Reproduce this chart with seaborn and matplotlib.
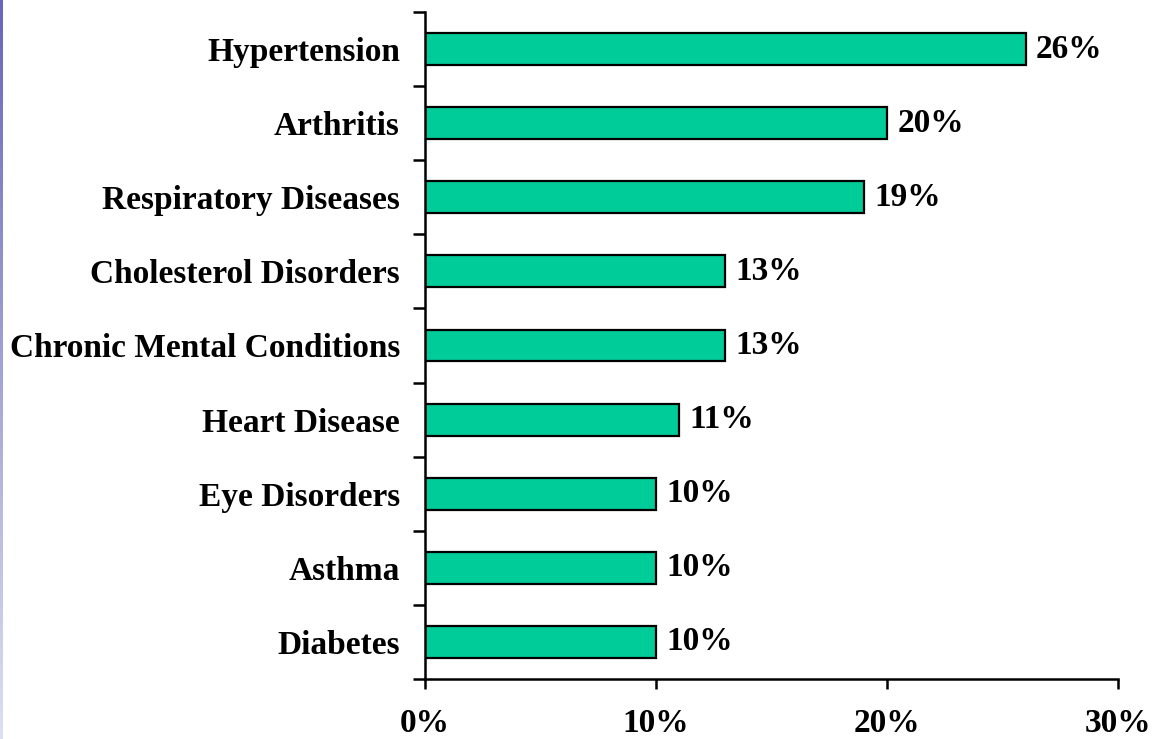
import matplotlib
matplotlib.use("Agg")
import matplotlib.pyplot as plt
import seaborn as sns
import numpy as np
import pandas as pd
from matplotlib.colors import LinearSegmentedColormap

categories = ["Hypertension", "Arthritis", "Respiratory Diseases", "Cholesterol Disorders",
              "Chronic Mental Conditions", "Heart Disease", "Eye Disorders", "Asthma", "Diabetes"]
values = [26, 20, 19, 13, 13, 11, 10, 10, 10]
xticks = [0, 10, 20, 30]
xtick_labels = ["0%", "10%", "20%", "30%"]

sns.set_style("white")
plt.rcParams['font.family'] = ['Liberation Serif', 'DejaVu Serif']
plt.rcParams['font.weight'] = 'bold'
plt.rcParams['text.color'] = 'black'
plt.rcParams['xtick.color'] = 'black'
plt.rcParams['ytick.color'] = 'black'

FS = 24

df = pd.DataFrame({"cat": categories, "val": values})

fig = plt.figure(figsize=(11.57, 7.39), dpi=100)
ax = fig.add_axes([425/1157, 1 - 679/739, (1118 - 425)/1157, (679 - 12)/739])

sns.barplot(data=df, x="val", y="cat", orient="h", color="#00CC99", width=0.43,
            edgecolor="black", linewidth=1.6, saturation=1, ax=ax)
for p in ax.patches:
    p.set_facecolor("#00CC99")

ax.set_xlim(0, 30)
ax.set_ylim(len(categories) - 0.5, -0.5)
ax.set_xticks(xticks)
ax.set_xticklabels(xtick_labels, fontsize=FS, fontweight='bold', color='black')
ax.tick_params(axis='x', length=7, width=1.8, direction='out', pad=14, bottom=True)
ax.set_yticks(range(len(categories)))
ax.set_yticklabels(categories, fontsize=FS, fontweight='bold', color='black')
ax.tick_params(axis='y', which='major', length=0, pad=18)
ax.set_yticks(np.arange(-0.5, len(categories), 1), minor=True)
ax.tick_params(axis='y', which='minor', length=9, width=1.8, direction='out', left=True)
ax.set_xlabel("")
ax.set_ylabel("")
for s in ["top", "right"]:
    ax.spines[s].set_visible(False)
for s in ["left", "bottom"]:
    ax.spines[s].set_linewidth(1.8)
    ax.spines[s].set_color("black")

for i, v in enumerate(values):
    ax.text(v + 0.45, i, f"{v}%", va="center", ha="left", fontsize=FS, fontweight='bold',
            color='black')

# left gradient strip
grad = np.linspace(0, 1, 256).reshape(-1, 1)
cmap = LinearSegmentedColormap.from_list("g", ["#6666bb", "#dde0f0"])
sax = fig.add_axes([0, 0, 3/1157, 1])
sax.imshow(grad, aspect='auto', cmap=cmap)
sax.axis('off')

fig.savefig("out.png", dpi=100)
